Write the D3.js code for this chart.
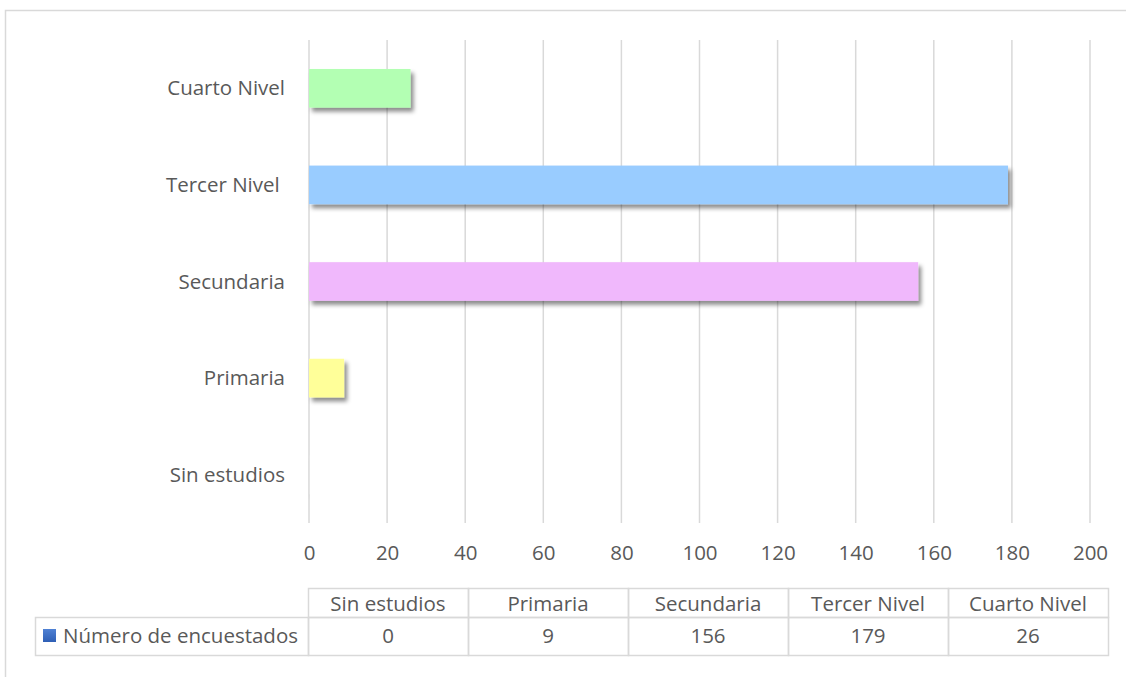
<!DOCTYPE html>
<html>
<head>
<meta charset="utf-8">
<script src="https://cdn.jsdelivr.net/npm/d3@7"></script>
<style>
  body { margin: 0; background: #fff; }
  text { font-family: "Open Sans", sans-serif; fill: #595959; }
</style>
</head>
<body>
<svg id="chart" width="1126" height="677"></svg>
<script>
// Data
var categories = ["Sin estudios", "Primaria", "Secundaria", "Tercer Nivel", "Cuarto Nivel"];
var tableHeaders = ["Sin estudios", "Primaria", "Secundaria", "Tercer Nivel", "Cuarto Nivel"];
var values = [0, 9, 156, 179, 26];
var barColors = ["#e8e8e8", "#ffff99", "#f0b8fc", "#99ccff", "#b3ffb3"];
var xTicks = [0, 20, 40, 60, 80, 100, 120, 140, 160, 180, 200];
var seriesName = "Número de encuestados";

var svg = d3.select("#chart");
var fontSize = 20.5;

// outer frame
svg.append("rect")
  .attr("x", 5.5).attr("y", 10.5)
  .attr("width", 1140).attr("height", 700)
  .attr("fill", "none").attr("stroke", "#d9d9d9").attr("stroke-width", 1.5);

// drop shadow for bars
var defs = svg.append("defs");
defs.append("filter").attr("id", "shadow")
  .attr("x", "-20%").attr("y", "-30%").attr("width", "150%").attr("height", "170%")
  .append("feDropShadow")
  .attr("dx", 3).attr("dy", 4).attr("stdDeviation", 2.2)
  .attr("flood-color", "#000").attr("flood-opacity", 0.45);

// Scales
var xscale = d3.scaleLinear().domain([0, 200]).range([309, 1090]);
var yscale = d3.scaleBand()
  .domain(categories.slice().reverse())
  .range([40, 523])
  .paddingInner(0.6)
  .paddingOuter(0.3);

// gridlines
svg.append("g").selectAll("line")
  .data(xTicks)
  .enter().append("line")
  .attr("x1", function(d) { return xscale(d); })
  .attr("x2", function(d) { return xscale(d); })
  .attr("y1", 40).attr("y2", 523)
  .attr("stroke", "#d9d9d9").attr("stroke-width", 1.5);

// x axis tick labels
var xAxis = svg.append("g")
  .attr("transform", "translate(0,553)")
  .call(d3.axisBottom(xscale).tickValues(xTicks).tickSize(0).tickPadding(0));
xAxis.select(".domain").remove();
xAxis.selectAll("text")
  .attr("dy", "0.35em")
  .style("font-size", fontSize + "px")
  .style("font-family", "'Open Sans', sans-serif")
  .attr("fill", "#595959");

// bars
svg.append("g").selectAll("rect")
  .data(categories)
  .enter().append("rect")
  .attr("x", xscale(0))
  .attr("y", function(d) { return yscale(d); })
  .attr("width", function(d, i) { return Math.max(0.5, xscale(values[i]) - xscale(0)); })
  .attr("height", yscale.bandwidth())
  .attr("fill", function(d, i) { return barColors[i]; })
  .attr("filter", "url(#shadow)");

// category labels
svg.append("g").selectAll("text")
  .data(categories)
  .enter().append("text")
  .attr("x", 285)
  .attr("y", function(d) { return yscale(d) + yscale.bandwidth() / 2; })
  .attr("dy", "0.35em")
  .attr("text-anchor", "end")
  .style("font-size", fontSize + "px")
  .text(function(d) { return d == "Tercer Nivel" ? "Tercer Nivel\u00a0" : d; });

// data table
var colX = d3.scaleBand().domain(tableHeaders).range([308, 1108]);
var rowTop = 588, rowMid = 617, rowBot = 655;
var table = svg.append("g");

table.selectAll("rect.hdr")
  .data(tableHeaders)
  .enter().append("rect")
  .attr("class", "hdr")
  .attr("x", function(d) { return colX(d) + 0.5; })
  .attr("y", rowTop + 0.5)
  .attr("width", colX.bandwidth())
  .attr("height", rowMid - rowTop)
  .attr("fill", "none").attr("stroke", "#d9d9d9").attr("stroke-width", 1.5);

table.selectAll("rect.val")
  .data(tableHeaders)
  .enter().append("rect")
  .attr("class", "val")
  .attr("x", function(d) { return colX(d) + 0.5; })
  .attr("y", rowMid + 0.5)
  .attr("width", colX.bandwidth())
  .attr("height", rowBot - rowMid)
  .attr("fill", "none").attr("stroke", "#d9d9d9").attr("stroke-width", 1.5);

table.append("rect")
  .attr("x", 35.5).attr("y", rowMid + 0.5)
  .attr("width", 308 - 35).attr("height", rowBot - rowMid)
  .attr("fill", "none").attr("stroke", "#d9d9d9").attr("stroke-width", 1.5);

table.selectAll("text.hdr")
  .data(tableHeaders)
  .enter().append("text")
  .attr("class", "hdr")
  .attr("x", function(d) { return colX(d) + colX.bandwidth() / 2; })
  .attr("y", (rowTop + rowMid) / 2 + 1)
  .attr("dy", "0.35em")
  .attr("text-anchor", "middle")
  .style("font-size", fontSize + "px")
  .text(function(d) { return d; });

table.selectAll("text.val")
  .data(values)
  .enter().append("text")
  .attr("class", "val")
  .attr("x", function(d, i) { return colX(tableHeaders[i]) + colX.bandwidth() / 2; })
  .attr("y", (rowMid + rowBot) / 2)
  .attr("dy", "0.35em")
  .attr("text-anchor", "middle")
  .style("font-size", fontSize + "px")
  .text(function(d) { return d; });

// legend key
var grad = defs.append("linearGradient").attr("id", "keygrad")
  .attr("x1", 0).attr("y1", 0).attr("x2", 0).attr("y2", 1);
grad.append("stop").attr("offset", "0%").attr("stop-color", "#4f81d4");
grad.append("stop").attr("offset", "100%").attr("stop-color", "#2f5fb5");
table.append("rect")
  .attr("x", 43).attr("y", 629).attr("width", 13).attr("height", 13)
  .attr("fill", "url(#keygrad)");
table.append("text")
  .attr("x", 63)
  .attr("y", (rowMid + rowBot) / 2)
  .attr("dy", "0.35em")
  .style("font-size", fontSize + "px")
  .text(seriesName);
</script>
</body>
</html>
